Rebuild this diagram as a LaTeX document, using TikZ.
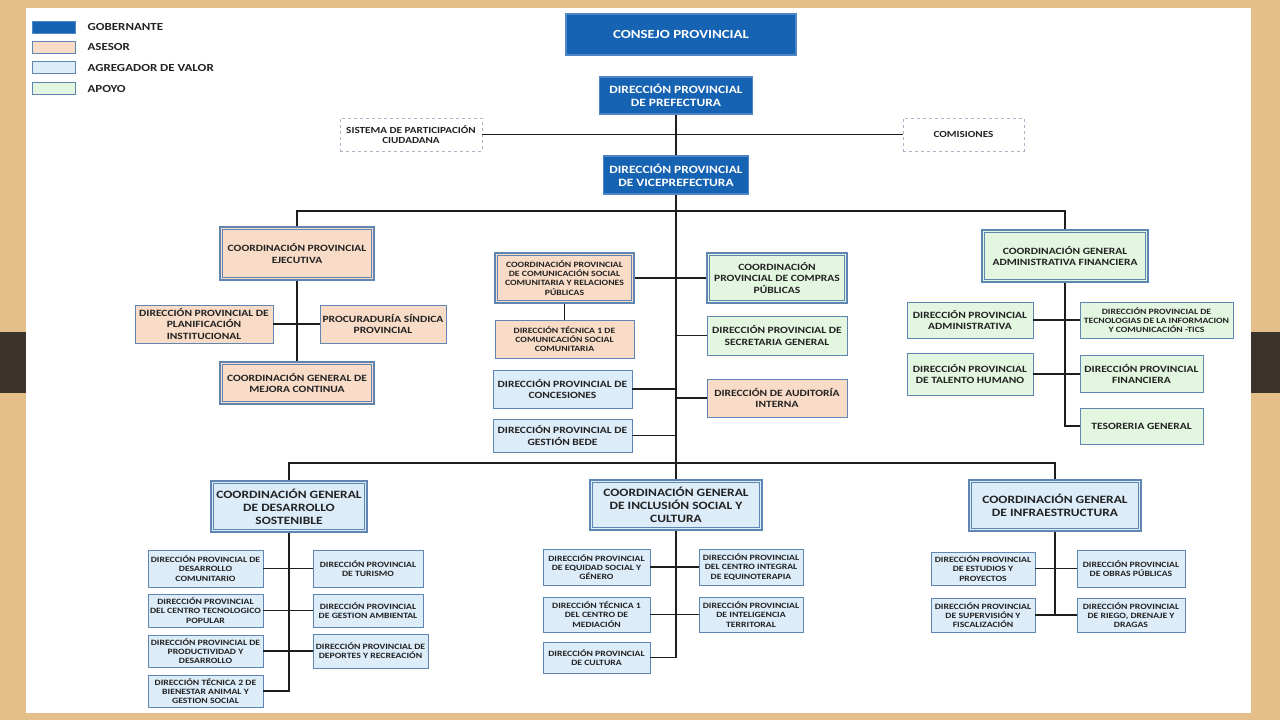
\documentclass[tikz,border=0pt]{standalone}
\usepackage{fontspec}
\setmainfont[FakeStretch=1.2]{Carlito}
\usetikzlibrary{positioning}

\definecolor{woodtan}{HTML}{E4BF8A}
\definecolor{woodbar}{HTML}{3B332C}
\definecolor{gobblue}{HTML}{1663B3}
\definecolor{gobline}{HTML}{4F86C6}
\definecolor{unitline}{HTML}{5F86B3}
\definecolor{asesfill}{HTML}{F9DCC8}
\definecolor{agregfill}{HTML}{DCECF9}
\definecolor{apoyofill}{HTML}{E2F6E0}
\definecolor{extline}{HTML}{AAB6C8}
\definecolor{textdark}{HTML}{222222}
\definecolor{linkcolor}{HTML}{1E1E1E}

\tikzset{
  unit/.style={draw=unitline, line width=0.8pt, align=center, inner sep=1pt, text=textdark},
  gob/.style={unit, fill=gobblue, draw=gobline, line width=1.2pt, text=white},
  ases/.style={unit, fill=asesfill},
  agreg/.style={unit, fill=agregfill},
  apoyo/.style={unit, fill=apoyofill},
  coord/.style={line width=1.2pt, path picture={
      \draw[unitline, line width=0.7pt]
        ([shift={(2.4pt,-2.4pt)}]path picture bounding box.north west) rectangle
        ([shift={(-2.4pt,2.4pt)}]path picture bounding box.south east);}},
  ext/.style={unit, draw=extline, dashed, fill=white},
  wh/.style 2 args={minimum width=#1pt, minimum height=#2pt},
  legtxt/.style={inner sep=0pt, anchor=west, text=textdark, font=\bfseries\fontsize{10.8}{12}\selectfont},
  txa/.style={font=\bfseries\fontsize{8.1}{9.2}\selectfont},
  txb/.style={font=\bfseries\fontsize{9.3}{10.6}\selectfont},
  txc/.style={font=\bfseries\fontsize{9.6}{11.2}\selectfont},
  txd/.style={font=\bfseries\fontsize{11.2}{13}\selectfont},
  txe/.style={font=\bfseries\fontsize{12.4}{14}\selectfont},
  link/.style={draw=linkcolor, line width=1.3pt},
}

\begin{document}
\begin{tikzpicture}[x=1pt, y=-1pt]
% slide frame
\useasboundingbox (0,0) rectangle (1280,720);
\fill[woodtan] (0,0) rectangle (1280,720);
\fill[woodbar] (0,332) rectangle (26,393);
\fill[woodbar] (1251,332) rectangle (1280,393);
\fill[white] (26,8) rectangle (1251,713);

% legend
\node[gob, line width=0.8pt, wh={43}{12}] (lgob) at (53.5,27) {};
\node[ases, wh={43}{12}] (lases) at (53.5,47) {};
\node[agreg, wh={43}{12}] (lagreg) at (53.5,67.5) {};
\node[apoyo, wh={43}{12}] (lapoyo) at (53.5,88.5) {};
\node[legtxt, right=12pt of lgob] (tgob) {GOBERNANTE};
\node[legtxt, right=12pt of lases] (tases) {ASESOR};
\node[legtxt, right=12pt of lagreg] (tagreg) {AGREGADOR DE VALOR};
\node[legtxt, right=12pt of lapoyo] (tapoyo) {APOYO};

% governing level
\node[gob, txe, wh={230}{41}] (consejo) at (681,34.5) {CONSEJO PROVINCIAL};
\node[gob, txd, wh={153}{37}] (pref) at (676,95.5) {DIRECCIÓN PROVINCIAL\\DE PREFECTURA};
\node[ext, txb, wh={142}{33}] (sis) at (411,134.5) {SISTEMA DE PARTICIPACIÓN\\CIUDADANA};
\node[ext, txb, wh={121}{33}] (com) at (963.5,134.5) {COMISIONES};
\node[gob, txd, wh={145}{38}] (vice) at (676,175) {DIRECCIÓN PROVINCIAL\\DE VICEPREFECTURA};

% left block
\node[ases, coord, txc, wh={154}{53}] (cpe) at (297,253.5) {COORDINACIÓN PROVINCIAL\\EJECUTIVA};
\node[ases, txc, wh={138}{38}] (plan) at (204,324) {DIRECCIÓN PROVINCIAL DE\\PLANIFICACIÓN\\INSTITUCIONAL};
\node[ases, txc, wh={126}{38}] (proc) at (383,324) {PROCURADURÍA SÍNDICA\\PROVINCIAL};
\node[ases, coord, txc, wh={154}{42}] (cgmc) at (297,383) {COORDINACIÓN GENERAL DE\\MEJORA CONTINUA};

% middle block
\node[ases, coord, txa, wh={139}{50}] (comsoc) at (564.5,278) {COORDINACIÓN PROVINCIAL\\DE COMUNICACIÓN SOCIAL\\COMUNITARIA Y RELACIONES\\PÚBLICAS};
\node[ases, txa, wh={139}{38}] (dt1) at (564.5,339) {DIRECCIÓN TÉCNICA 1 DE\\COMUNICACIÓN SOCIAL\\COMUNITARIA};
\node[agreg, txc, wh={139}{38}] (conc) at (562.5,389) {DIRECCIÓN PROVINCIAL DE\\CONCESIONES};
\node[agreg, txc, wh={139}{33}] (bede) at (562.5,435.5) {DIRECCIÓN PROVINCIAL DE\\GESTIÓN BEDE};
\node[apoyo, coord, txc, wh={140}{50}] (compras) at (777,278) {COORDINACIÓN\\PROVINCIAL DE COMPRAS\\PÚBLICAS};
\node[apoyo, txc, wh={140}{39}] (secgen) at (777,335.5) {DIRECCIÓN PROVINCIAL DE\\SECRETARIA GENERAL};
\node[ases, txc, wh={140}{38}] (audit) at (777,398) {DIRECCIÓN DE AUDITORÍA\\INTERNA};

% right block
\node[apoyo, coord, txc, wh={166}{52}] (cgaf) at (1065,256) {COORDINACIÓN GENERAL\\ADMINISTRATIVA FINANCIERA};
\node[apoyo, txc, wh={126}{36}] (dpadm) at (970,320) {DIRECCIÓN PROVINCIAL\\ADMINISTRATIVA};
\node[apoyo, txa, wh={153}{36}] (tics) at (1156.5,320) {DIRECCIÓN PROVINCIAL DE\\TECNOLOGIAS DE LA INFORMACION\\Y COMUNICACIÓN -TICS};
\node[apoyo, txc, wh={126}{42}] (th) at (970,374) {DIRECCIÓN PROVINCIAL\\DE TALENTO HUMANO};
\node[apoyo, txc, wh={123}{37}] (fin) at (1141.5,374) {DIRECCIÓN PROVINCIAL\\FINANCIERA};
\node[apoyo, txc, wh={123}{36}] (tes) at (1141.5,426) {TESORERIA GENERAL};

% lower coordinations
\node[agreg, coord, txd, wh={156}{51}] (cgds) at (289,506.5) {COORDINACIÓN GENERAL\\DE DESARROLLO\\SOSTENIBLE};
\node[agreg, coord, txd, wh={172}{50}] (cgis) at (676,505) {COORDINACIÓN GENERAL\\DE INCLUSIÓN SOCIAL  Y\\CULTURA};
\node[agreg, coord, txd, wh={172}{51}] (cgi) at (1055,505.5) {COORDINACIÓN GENERAL\\DE INFRAESTRUCTURA};

\node[agreg, txa, wh={115}{37}] (desc) at (205.5,568.5) {DIRECCIÓN PROVINCIAL DE\\DESARROLLO\\COMUNITARIO};
\node[agreg, txa, wh={115}{33}] (ctp) at (205.5,610.5) {DIRECCIÓN PROVINCIAL\\DEL CENTRO TECNOLOGICO\\POPULAR};
\node[agreg, txa, wh={115}{32}] (prod) at (205.5,651) {DIRECCIÓN PROVINCIAL DE\\PRODUCTIVIDAD Y\\DESARROLLO};
\node[agreg, txa, wh={115}{32}] (bien) at (205.5,691) {DIRECCIÓN TÉCNICA 2 DE\\BIENESTAR ANIMAL Y\\GESTION SOCIAL};
\node[agreg, txa, wh={110}{37}] (tur) at (368,568.5) {DIRECCIÓN PROVINCIAL\\DE TURISMO};
\node[agreg, txa, wh={110}{33}] (gamb) at (368,610.5) {DIRECCIÓN PROVINCIAL\\DE GESTION AMBIENTAL};
\node[agreg, txa, wh={115}{34}] (dep) at (370.5,651) {DIRECCIÓN PROVINCIAL DE\\DEPORTES Y RECREACIÓN};

\node[agreg, txa, wh={107}{36}] (equi) at (596.5,567) {DIRECCIÓN PROVINCIAL\\DE EQUIDAD SOCIAL Y\\GÉNERO};
\node[agreg, txa, wh={107}{35}] (med) at (596.5,614.5) {DIRECCIÓN TÉCNICA 1\\DEL CENTRO DE\\MEDIACIÓN};
\node[agreg, txa, wh={107}{31}] (cult) at (596.5,657.5) {DIRECCIÓN PROVINCIAL\\DE CULTURA};
\node[agreg, txa, wh={104}{36}] (cie) at (751,567) {DIRECCIÓN PROVINCIAL\\DEL CENTRO INTEGRAL\\DE EQUINOTERAPIA};
\node[agreg, txa, wh={104}{35}] (intel) at (751,614.5) {DIRECCIÓN PROVINCIAL\\DE INTELIGENCIA\\TERRITORAL};

\node[agreg, txa, wh={104}{33}] (est) at (983,568.5) {DIRECCIÓN PROVINCIAL\\DE ESTUDIOS Y\\PROYECTOS};
\node[agreg, txa, wh={104}{34}] (sup) at (983,615) {DIRECCIÓN PROVINCIAL\\DE SUPERVISIÓN Y\\FISCALIZACIÓN};
\node[agreg, txa, wh={108}{37}] (obras) at (1131,568.5) {DIRECCIÓN PROVINCIAL\\DE OBRAS PÚBLICAS};
\node[agreg, txa, wh={108}{34}] (riego) at (1131,615) {DIRECCIÓN PROVINCIAL\\DE RIEGO, DRENAJE Y\\DRAGAS};

% connectors
\coordinate (bus1) at (676,211);
\coordinate (bus2) at (676,463);
\draw[link] (pref) -- (vice);
\draw[link] (sis) -- (com);
\draw[link] (vice.south) -- (cgis.north);
\draw[link] (cpe.north) |- (bus1) -| (cgaf.north);
\draw[link] (cgds.north) |- (bus2) -| (cgi.north);

\draw[link] (cpe) -- (cgmc);
\draw[link] (plan) -- (proc);

\draw[link] (comsoc) -- (dt1);
\draw[link] (comsoc) -- (compras);
\draw[link] (conc.east) -- (conc.east -| vice.south);
\draw[link] (bede.east) -- (bede.east -| vice.south);
\draw[link] (secgen.west) -- (secgen.west -| vice.south);
\draw[link] (audit.west) -- (audit.west -| vice.south);

\draw[link] (cgaf.south) |- (tes.west);
\draw[link] (dpadm) -- (tics);
\draw[link] (th) -- (fin);

\draw[link] (cgds.south) |- (bien.east);
\draw[link] (desc) -- (tur);
\draw[link] (ctp) -- (gamb);
\draw[link] (prod) -- (dep);

\draw[link] (cgis.south) |- (cult.east);
\draw[link] (equi) -- (cie);
\draw[link] (med) -- (intel);

\draw[link] (cgi.south) -- (cgi.south |- sup.east);
\draw[link] (est) -- (obras);
\draw[link] (sup) -- (riego);
\end{tikzpicture}
\end{document}
